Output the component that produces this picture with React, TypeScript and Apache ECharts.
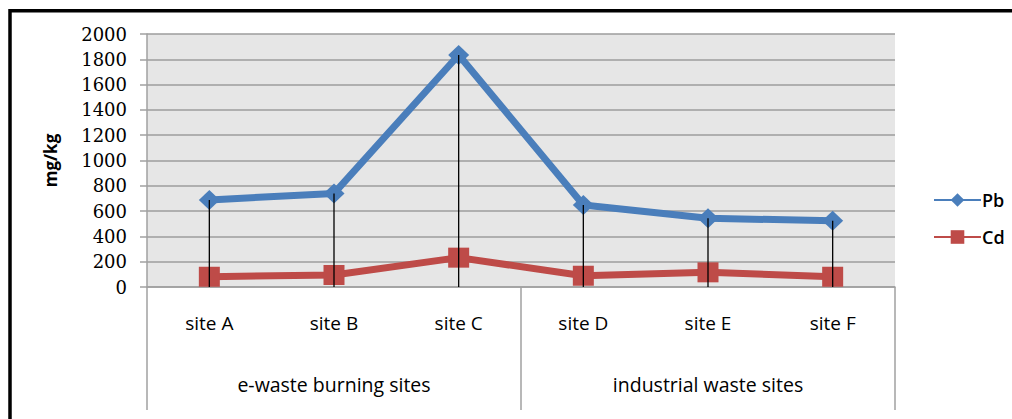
import React, { useEffect, useRef } from "react";
import * as echarts from "echarts";

const sites = ["site A", "site B", "site C", "site D", "site E", "site F"];
const groups = ["e-waste burning sites", "industrial waste sites"];
const pbValues = [688, 740, 1834, 648, 543, 524];
const cdValues = [81, 95, 232, 89, 116, 81];
const yTicks = { min: 0, max: 2000, interval: 200 };

export default function App() {
  const ref = useRef<HTMLDivElement>(null);
  useEffect(() => {
    if (!ref.current) return;
    const chart = echarts.init(ref.current, undefined, { renderer: "svg" });
    const sansFont = "'Open Sans', sans-serif";
    chart.setOption({
      animation: false,
      backgroundColor: "#ffffff",
      grid: {
        left: 147,
        right: 117,
        top: 34,
        bottom: 132,
        show: true,
        backgroundColor: "#e6e6e6",
        borderWidth: 0,
      },
      legend: {
        data: ["Pb", "Cd"],
        orient: "vertical",
        left: 928,
        top: 186,
        itemWidth: 47,
        itemHeight: 17,
        itemGap: 19,
        textStyle: {
          fontFamily: sansFont,
          fontSize: 18,
          fontWeight: 600,
          color: "#000",
          padding: [0, 0, 0, -4],
        },
      },
      xAxis: [
        {
          type: "category",
          data: sites,
          boundaryGap: true,
          position: "bottom",
          axisLine: { show: true, lineStyle: { color: "#a0a0a0", width: 1.5 } },
          axisTick: { show: false },
          axisLabel: {
            margin: 26,
            fontFamily: sansFont,
            fontSize: 19,
            color: "#000",
          },
          splitLine: { show: false },
        },
        {
          type: "category",
          data: groups,
          boundaryGap: true,
          position: "bottom",
          axisLine: { show: false },
          axisTick: {
            show: true,
            alignWithLabel: false,
            interval: 0,
            length: 123,
            lineStyle: { color: "#a0a0a0", width: 1.5 },
          },
          axisLabel: {
            margin: 87,
            fontFamily: sansFont,
            fontSize: 19.5,
            color: "#000",
          },
          splitLine: { show: false },
        },
      ],
      yAxis: {
        type: "value",
        min: yTicks.min,
        max: yTicks.max,
        interval: yTicks.interval,
        name: "mg/kg",
        nameLocation: "middle",
        nameRotate: 90,
        nameGap: 88,
        nameTextStyle: {
          fontFamily: sansFont,
          fontSize: 17,
          fontWeight: "bold",
          color: "#000",
        },
        axisLine: { show: true, lineStyle: { color: "#a0a0a0", width: 1.5 } },
        axisTick: { show: true, length: 7, lineStyle: { color: "#a0a0a0", width: 1.5 } },
        axisLabel: {
          margin: 20,
          fontFamily: "'DejaVu Serif', serif",
          fontSize: 18,
          color: "#000",
          formatter: (v: number) => String(v),
        },
        splitLine: { show: true, lineStyle: { color: "#9c9c9c", width: 1.5 } },
      },
      series: [
        {
          name: "Pb",
          type: "line",
          data: pbValues,
          z: 2,
          symbol: "diamond",
          symbolSize: [21, 20],
          lineStyle: { color: "#4a7ebb", width: 7 },
          itemStyle: { color: "#4a7ebb" },
        },
        {
          name: "Cd",
          type: "line",
          data: cdValues,
          z: 2,
          symbol: "rect",
          symbolSize: [21, 20],
          lineStyle: { color: "#be4b48", width: 7 },
          itemStyle: { color: "#be4b48" },
        },
        {
          name: "drop",
          type: "custom",
          z: 5,
          data: pbValues.map((v, i) => [i, v]),
          renderItem: (params: any, api: any) => {
            const top = api.coord([api.value(0), api.value(1)]);
            const bottom = api.coord([api.value(0), 0]);
            return {
              type: "line",
              shape: { x1: top[0], y1: top[1], x2: bottom[0], y2: bottom[1] },
              style: { stroke: "#000", lineWidth: 1.3 },
            };
          },
        },
      ],
      graphic: [
        {
          type: "polyline",
          shape: { points: [[10, 500], [10, 10.7], [1100, 10.7]] },
          style: { stroke: "#000", lineWidth: 3.5, fill: "none" },
          silent: true,
        },
      ],
    });
    return () => chart.dispose();
  }, []);
  return (
    <div
      ref={ref}
      style={{ position: "fixed", left: 0, top: 0, width: 1012, height: 419 }}
    />
  );
}
